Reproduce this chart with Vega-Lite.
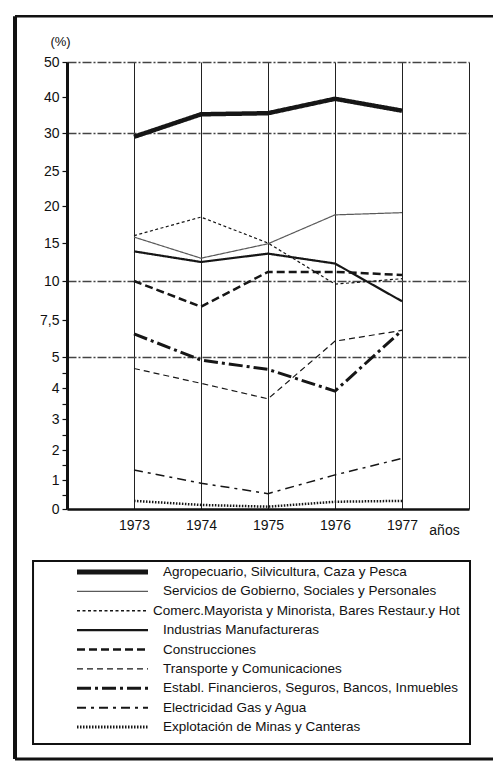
{
  "$schema": "https://vega.github.io/schema/vega-lite/v6.json",
  "width": 402,
  "height": 447,
  "autosize": {"type": "none"},
  "padding": {"left": 67, "top": 62, "right": 24, "bottom": 253},
  "background": "white",
  "config": {"view": {"stroke": null}, "font": "Liberation Sans"},
  "data": {
    "values": [
      {"sector": "Agropecuario, Silvicultura, Caza y Pesca", "year": 1973, "value": 29.5},
      {"sector": "Agropecuario, Silvicultura, Caza y Pesca", "year": 1974, "value": 35.2},
      {"sector": "Agropecuario, Silvicultura, Caza y Pesca", "year": 1975, "value": 35.5},
      {"sector": "Agropecuario, Silvicultura, Caza y Pesca", "year": 1976, "value": 39.5},
      {"sector": "Agropecuario, Silvicultura, Caza y Pesca", "year": 1977, "value": 36.2},
      {"sector": "Servicios de Gobierno, Sociales y Personales", "year": 1973, "value": 15.8},
      {"sector": "Servicios de Gobierno, Sociales y Personales", "year": 1974, "value": 13.0},
      {"sector": "Servicios de Gobierno, Sociales y Personales", "year": 1975, "value": 14.9},
      {"sector": "Servicios de Gobierno, Sociales y Personales", "year": 1976, "value": 18.8},
      {"sector": "Servicios de Gobierno, Sociales y Personales", "year": 1977, "value": 19.1},
      {"sector": "Comerc.Mayorista y Minorista, Bares Restaur.y Hot", "year": 1973, "value": 16.0},
      {"sector": "Comerc.Mayorista y Minorista, Bares Restaur.y Hot", "year": 1974, "value": 18.5},
      {"sector": "Comerc.Mayorista y Minorista, Bares Restaur.y Hot", "year": 1975, "value": 15.0},
      {"sector": "Comerc.Mayorista y Minorista, Bares Restaur.y Hot", "year": 1976, "value": 9.8},
      {"sector": "Comerc.Mayorista y Minorista, Bares Restaur.y Hot", "year": 1977, "value": 10.3},
      {"sector": "Industrias Manufactureras", "year": 1973, "value": 13.9},
      {"sector": "Industrias Manufactureras", "year": 1974, "value": 12.5},
      {"sector": "Industrias Manufactureras", "year": 1975, "value": 13.6},
      {"sector": "Industrias Manufactureras", "year": 1976, "value": 12.3},
      {"sector": "Industrias Manufactureras", "year": 1977, "value": 8.7},
      {"sector": "Construcciones", "year": 1973, "value": 10.0},
      {"sector": "Construcciones", "year": 1974, "value": 8.35},
      {"sector": "Construcciones", "year": 1975, "value": 11.2},
      {"sector": "Construcciones", "year": 1976, "value": 11.2},
      {"sector": "Construcciones", "year": 1977, "value": 10.8},
      {"sector": "Transporte y Comunicaciones", "year": 1973, "value": 4.63},
      {"sector": "Transporte y Comunicaciones", "year": 1974, "value": 4.15},
      {"sector": "Transporte y Comunicaciones", "year": 1975, "value": 3.65},
      {"sector": "Transporte y Comunicaciones", "year": 1976, "value": 6.07},
      {"sector": "Transporte y Comunicaciones", "year": 1977, "value": 6.8},
      {"sector": "Establ. Financieros, Seguros, Bancos, Inmuebles", "year": 1973, "value": 6.56},
      {"sector": "Establ. Financieros, Seguros, Bancos, Inmuebles", "year": 1974, "value": 4.9},
      {"sector": "Establ. Financieros, Seguros, Bancos, Inmuebles", "year": 1975, "value": 4.6},
      {"sector": "Establ. Financieros, Seguros, Bancos, Inmuebles", "year": 1976, "value": 3.9},
      {"sector": "Establ. Financieros, Seguros, Bancos, Inmuebles", "year": 1977, "value": 6.8},
      {"sector": "Electricidad Gas y Agua", "year": 1973, "value": 1.33},
      {"sector": "Electricidad Gas y Agua", "year": 1974, "value": 0.89},
      {"sector": "Electricidad Gas y Agua", "year": 1975, "value": 0.53},
      {"sector": "Electricidad Gas y Agua", "year": 1976, "value": 1.17},
      {"sector": "Electricidad Gas y Agua", "year": 1977, "value": 1.72},
      {"sector": "Explotación de Minas y Canteras", "year": 1973, "value": 0.28},
      {"sector": "Explotación de Minas y Canteras", "year": 1974, "value": 0.14},
      {"sector": "Explotación de Minas y Canteras", "year": 1975, "value": 0.08},
      {"sector": "Explotación de Minas y Canteras", "year": 1976, "value": 0.25},
      {"sector": "Explotación de Minas y Canteras", "year": 1977, "value": 0.28}
    ]
  },
  "resolve": {"scale": {"x": "independent", "y": "independent"}},
  "layer": [
    {
      "mark": {"type": "line", "strokeCap": "butt", "strokeJoin": "miter"},
      "encoding": {
        "x": {
          "field": "year", "type": "quantitative",
          "scale": {"domain": [1972, 1978], "nice": false, "zero": false},
          "axis": {
            "title": "años", "titleX": 377, "titleY": 21, "titleAlign": "center", "titleBaseline": "middle",
            "titleFontSize": 14, "titleFontWeight": "normal", "titleColor": "#111",
            "values": [1973, 1974, 1975, 1976, 1977, 1978], "format": "d",
            "labelExpr": "datum.value >= 1978 ? '' : datum.label",
            "labelFontSize": 14, "labelColor": "#111", "labelPadding": 9, "labelOverlap": false,
            "ticks": false, "tickSize": 0,
            "domainColor": "#111", "domainWidth": 2.5,
            "grid": true, "gridColor": "#222", "gridWidth": 1, "gridOpacity": 1
          }
        },
        "y": {
          "field": "value", "type": "quantitative",
          "scale": {
            "domain": [0, 1, 2, 3, 4, 5, 7.5, 10, 15, 20, 25, 30, 40, 50],
            "range": [447, 418, 388, 357, 326, 295, 258, 219, 181, 144, 109, 71, 35, 0],
            "nice": false, "zero": false
          },
          "axis": {
            "title": "(%)", "titleAngle": 0, "titleX": -7, "titleY": -21, "titleAlign": "center", "titleBaseline": "middle",
            "titleFontSize": 13, "titleFontWeight": "normal", "titleColor": "#111",
            "values": [0, 0.5, 1, 1.5, 2, 2.5, 3, 3.5, 4, 4.5, 5, 7.5, 10, 15, 20, 25, 30, 40, 50],
            "labelExpr": "datum.value == 7.5 ? '7,5' : (datum.value % 1 != 0 ? '' : format(datum.value, 'd'))",
            "labelFontSize": 14, "labelColor": "#111", "labelPadding": 3, "labelOverlap": false,
            "tickSize": 5, "tickColor": "#111", "tickWidth": 1.2,
            "domainColor": "#111", "domainWidth": 3,
            "grid": true, "gridColor": "#444", "gridWidth": 1.3, "gridDash": [9, 2, 2, 2],
            "gridOpacity": {"condition": {"test": "datum.value == 5 || datum.value == 10 || datum.value == 30 || datum.value == 50", "value": 1}, "value": 0}
          }
        },
        "strokeDash": {
          "field": "sector", "type": "nominal",
          "scale": {
            "domain": [
              "Agropecuario, Silvicultura, Caza y Pesca",
              "Servicios de Gobierno, Sociales y Personales",
              "Comerc.Mayorista y Minorista, Bares Restaur.y Hot",
              "Industrias Manufactureras",
              "Construcciones",
              "Transporte y Comunicaciones",
              "Establ. Financieros, Seguros, Bancos, Inmuebles",
              "Electricidad Gas y Agua",
              "Explotación de Minas y Canteras"
            ],
            "range": [[1, 0], [1, 0], [3, 2.5], [1, 0], [8, 4], [6, 4], [14, 4, 3, 4], [9, 5, 3, 5], [1.5, 1.5]]
          },
          "legend": null
        },
        "strokeWidth": {
          "condition": [
            {"test": "datum.sector === 'Agropecuario, Silvicultura, Caza y Pesca'", "value": 4.5},
            {"test": "datum.sector === 'Industrias Manufactureras'", "value": 2.2},
            {"test": "datum.sector === 'Construcciones'", "value": 2.5},
            {"test": "datum.sector === 'Establ. Financieros, Seguros, Bancos, Inmuebles'", "value": 3},
            {"test": "datum.sector === 'Electricidad Gas y Agua'", "value": 1.5},
            {"test": "datum.sector === 'Explotación de Minas y Canteras'", "value": 2.5}
          ],
          "value": 1.2
        },
        "stroke": {
          "condition": {"test": "datum.sector === 'Servicios de Gobierno, Sociales y Personales'", "value": "#5a5a5a"},
          "value": "#161616"
        }
      }
    },
    {
      "transform": [{"aggregate": [{"op": "count", "as": "n"}], "groupby": ["sector"]}],
      "mark": {"type": "rule", "strokeCap": "butt"},
      "encoding": {
        "x": {"datum": 44, "type": "quantitative", "scale": {"domain": [0, 437], "range": [-34, 403], "nice": false, "zero": false}, "axis": null},
        "x2": {"datum": 115},
        "y": {
          "field": "sector", "type": "nominal", "axis": null,
          "scale": {
            "type": "point", "padding": 0, "range": [510, 665],
            "domain": [
              "Agropecuario, Silvicultura, Caza y Pesca",
              "Servicios de Gobierno, Sociales y Personales",
              "Comerc.Mayorista y Minorista, Bares Restaur.y Hot",
              "Industrias Manufactureras",
              "Construcciones",
              "Transporte y Comunicaciones",
              "Establ. Financieros, Seguros, Bancos, Inmuebles",
              "Electricidad Gas y Agua",
              "Explotación de Minas y Canteras"
            ]
          }
        },
        "strokeDash": {"field": "sector", "type": "nominal", "legend": null},
        "strokeWidth": {
          "condition": [
            {"test": "datum.sector === 'Agropecuario, Silvicultura, Caza y Pesca'", "value": 5},
            {"test": "datum.sector === 'Industrias Manufactureras'", "value": 2.2},
            {"test": "datum.sector === 'Construcciones'", "value": 2.5},
            {"test": "datum.sector === 'Establ. Financieros, Seguros, Bancos, Inmuebles'", "value": 3},
            {"test": "datum.sector === 'Electricidad Gas y Agua'", "value": 2},
            {"test": "datum.sector === 'Explotación de Minas y Canteras'", "value": 3}
          ],
          "value": 1.3
        },
        "stroke": {
          "condition": {"test": "datum.sector === 'Servicios de Gobierno, Sociales y Personales'", "value": "#5a5a5a"},
          "value": "#161616"
        }
      }
    },
    {
      "transform": [
        {"aggregate": [{"op": "count", "as": "n"}], "groupby": ["sector"]},
        {"filter": "indexof(datum.sector, 'Comerc') != 0"}
      ],
      "mark": {"type": "text", "align": "left", "baseline": "middle", "fontSize": 13.5, "color": "#111"},
      "encoding": {
        "x": {"datum": 130, "type": "quantitative", "scale": {"domain": [0, 437], "range": [-34, 403], "nice": false, "zero": false}, "axis": null},
        "y": {
          "field": "sector", "type": "nominal", "axis": null,
          "scale": {
            "type": "point", "padding": 0, "range": [510, 665],
            "domain": [
              "Agropecuario, Silvicultura, Caza y Pesca",
              "Servicios de Gobierno, Sociales y Personales",
              "Comerc.Mayorista y Minorista, Bares Restaur.y Hot",
              "Industrias Manufactureras",
              "Construcciones",
              "Transporte y Comunicaciones",
              "Establ. Financieros, Seguros, Bancos, Inmuebles",
              "Electricidad Gas y Agua",
              "Explotación de Minas y Canteras"
            ]
          }
        },
        "text": {"field": "sector", "type": "nominal"}
      }
    },
    {
      "transform": [
        {"aggregate": [{"op": "count", "as": "n"}], "groupby": ["sector"]},
        {"filter": "indexof(datum.sector, 'Comerc') == 0"}
      ],
      "mark": {"type": "text", "align": "left", "baseline": "middle", "fontSize": 13.5, "color": "#111"},
      "encoding": {
        "x": {"datum": 120, "type": "quantitative", "scale": {"domain": [0, 437], "range": [-34, 403], "nice": false, "zero": false}, "axis": null},
        "y": {
          "field": "sector", "type": "nominal", "axis": null,
          "scale": {
            "type": "point", "padding": 0, "range": [510, 665],
            "domain": [
              "Agropecuario, Silvicultura, Caza y Pesca",
              "Servicios de Gobierno, Sociales y Personales",
              "Comerc.Mayorista y Minorista, Bares Restaur.y Hot",
              "Industrias Manufactureras",
              "Construcciones",
              "Transporte y Comunicaciones",
              "Establ. Financieros, Seguros, Bancos, Inmuebles",
              "Electricidad Gas y Agua",
              "Explotación de Minas y Canteras"
            ]
          }
        },
        "text": {"field": "sector", "type": "nominal"}
      }
    },
    {
      "data": {"values": [{}]},
      "mark": {"type": "rect", "filled": false, "stroke": "#111", "strokeWidth": 2},
      "encoding": {
        "x": {"datum": 1971.493, "type": "quantitative", "scale": {"domain": [1972, 1978], "nice": false, "zero": false}, "axis": null},
        "x2": {"datum": 1978.015},
        "y": {"datum": -1.793, "type": "quantitative", "scale": {"domain": [0, 1, 2, 3, 4, 5, 7.5, 10, 15, 20, 25, 30, 40, 50], "range": [447, 418, 388, 357, 326, 295, 258, 219, 181, 144, 109, 71, 35, 0], "nice": false, "zero": false}, "axis": null},
        "y2": {"datum": -8.103}
      }
    },
    {
      "data": {"values": [{}]},
      "mark": {"type": "rule", "strokeWidth": 4, "color": "#111"},
      "encoding": {
        "x": {"datum": 1971.224, "type": "quantitative", "scale": {"domain": [1972, 1978], "nice": false, "zero": false}, "axis": null},
        "y": {"datum": 63.1, "type": "quantitative", "scale": {"domain": [0, 1, 2, 3, 4, 5, 7.5, 10, 15, 20, 25, 30, 40, 50], "range": [447, 418, 388, 357, 326, 295, 258, 219, 181, 144, 109, 71, 35, 0], "nice": false, "zero": false}, "axis": null},
        "y2": {"datum": -8.62}
      }
    },
    {
      "data": {"values": [{}]},
      "mark": {"type": "rule", "strokeWidth": 2.5, "color": "#111"},
      "encoding": {
        "x": {"datum": 1971.224, "type": "quantitative", "scale": {"domain": [1972, 1978], "nice": false, "zero": false}, "axis": null},
        "x2": {"datum": 1978.5},
        "y": {"datum": 63.1, "type": "quantitative", "scale": {"domain": [0, 1, 2, 3, 4, 5, 7.5, 10, 15, 20, 25, 30, 40, 50], "range": [447, 418, 388, 357, 326, 295, 258, 219, 181, 144, 109, 71, 35, 0], "nice": false, "zero": false}, "axis": null}
      }
    },
    {
      "data": {"values": [{}]},
      "mark": {"type": "rule", "strokeWidth": 3, "color": "#111"},
      "encoding": {
        "x": {"datum": 1971.224, "type": "quantitative", "scale": {"domain": [1972, 1978], "nice": false, "zero": false}, "axis": null},
        "x2": {"datum": 1978.5},
        "y": {"datum": -8.62, "type": "quantitative", "scale": {"domain": [0, 1, 2, 3, 4, 5, 7.5, 10, 15, 20, 25, 30, 40, 50], "range": [447, 418, 388, 357, 326, 295, 258, 219, 181, 144, 109, 71, 35, 0], "nice": false, "zero": false}, "axis": null}
      }
    }
  ]
}
